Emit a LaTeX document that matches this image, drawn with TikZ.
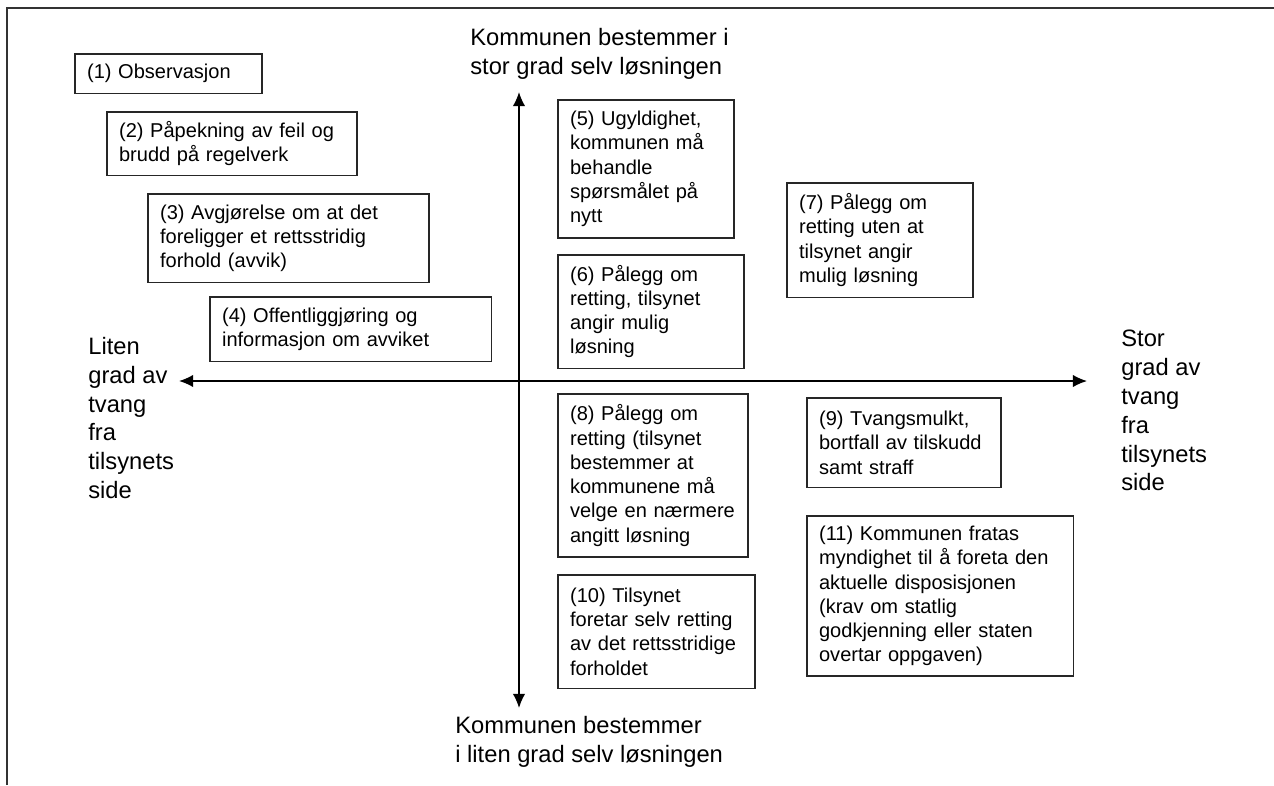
\documentclass[tikz,border=0pt]{standalone}
\usepackage{fontspec}
\setmainfont{Liberation Sans}
\usetikzlibrary{arrows.meta}

\newcommand{\boksfont}{\fontsize{11.4}{13.8}\selectfont}
\newcommand{\aksefont}{\fontsize{13.5}{16.4}\selectfont}

\begin{document}
\begin{tikzpicture}[x=0.02cm,y=-0.02cm]
  \tikzstyle{tiltak}=[draw=black!85,line width=0.9pt,anchor=north west,align=left,inner xsep=7pt,inner ysep=3pt,font=\boksfont]
  \tikzstyle{aksetekst}=[inner sep=0pt,anchor=north west,align=left,font=\aksefont]
  \tikzstyle{pil}=[{Latex[length=8pt,width=7pt]}-{Latex[length=8pt,width=7pt]},line width=0.8pt]

  \useasboundingbox (0,0) rectangle (1274,785);

  % ramme
  \draw[black!80,line width=1.1pt] (7,785) -- (7,8) -- (1274,8);

  % akser
  \coordinate (vest) at (179,381);
  \coordinate (ost) at (1087,381);
  \coordinate (nord) at (519,92);
  \coordinate (sor) at (519,708);
  \draw[pil] (vest) -- (ost);
  \draw[pil] (nord) -- (sor);

  \node[aksetekst] (topp) at (470,28) {Kommunen bestemmer i\\stor grad selv løsningen};
  \node[aksetekst] (bunn) at (455,716) {Kommunen bestemmer\\i liten grad selv løsningen};
  \node[aksetekst] (liten) at (88,337) {Liten\\grad av\\tvang\\fra\\tilsynets\\side};
  \node[aksetekst] (stor) at (1121,330) {Stor\\grad av\\tvang\\fra\\tilsynets\\side};

  % tiltak
  \node[tiltak,text width=92.6pt,minimum height=22.7pt] (t1) at (74,53) {(1) Observasjon};
  \node[tiltak,text width=128.3pt,minimum height=36.3pt] (t2) at (106,111) {(2) Påpekning av feil og\\brudd på regelverk};
  \node[tiltak,text width=145.9pt,minimum height=50.5pt] (t3) at (147,193) {(3) Avgjørelse om at det\\foreligger et rettsstridig\\forhold (avvik)};
  \node[tiltak,text width=146.4pt,minimum height=36.8pt] (t4) at (209,296) {(4) Offentliggjøring og\\informasjon om avviket};
  \node[tiltak,text width=86.3pt,minimum height=78.8pt] (t5) at (557,99) {(5) Ugyldighet,\\kommunen må\\behandle\\spørsmålet på\\nytt};
  \node[tiltak,text width=92pt,minimum height=64.6pt] (t6) at (557,254) {(6) Pålegg om\\retting, tilsynet\\angir mulig\\løsning};
  \node[tiltak,text width=92pt,minimum height=65.2pt] (t7) at (786,182) {(7) Pålegg om\\retting uten at\\tilsynet angir\\mulig løsning};
  \node[tiltak,text width=94.3pt,minimum height=93pt] (t8) at (557,393) {(8) Pålegg om\\retting (tilsynet\\bestemmer at\\kommunene må\\velge en nærmere\\angitt løsning};
  \node[tiltak,text width=96.5pt,minimum height=51pt] (t9) at (806,397) {(9) Tvangsmulkt,\\bortfall av tilskudd\\samt straff};
  \node[tiltak,text width=98.2pt,minimum height=64.6pt] (t10) at (557,574) {(10) Tilsynet\\foretar selv retting\\av det rettsstridige\\forholdet};
  \node[tiltak,text width=137.9pt,minimum height=91.3pt] (t11) at (806,515) {(11) Kommunen fratas\\myndighet til å foreta den\\aktuelle disposisjonen\\(krav om statlig\\godkjenning eller staten\\overtar oppgaven)};

\end{tikzpicture}
\end{document}
